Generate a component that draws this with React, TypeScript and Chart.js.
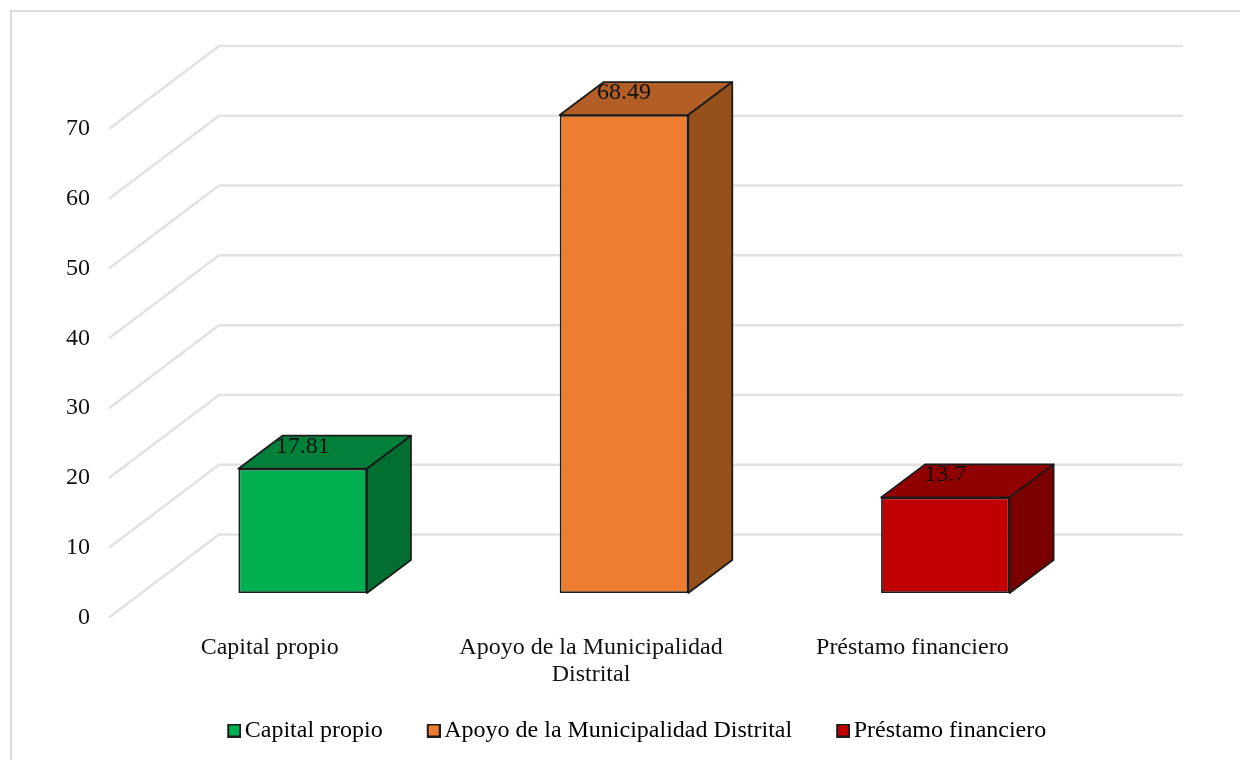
import React, { useEffect, useRef } from "react";
import { Chart, registerables } from "chart.js";

Chart.register(...registerables);

const categories = ["Capital propio", "Apoyo de la Municipalidad Distrital", "Préstamo financiero"];
const tickLabels = [["Capital propio"], ["Apoyo de la Municipalidad", "Distrital"], ["Préstamo financiero"]];
const values = [17.81, 68.49, 13.7];
const valueLabels = ["17.81", "68.49", "13.7"];
const frontColors = ["#00B050", "#ED7D31", "#C00000"];
const topColors = ["#008038", "#B25E25", "#900000"];
const sideColors = ["#006F30", "#96501C", "#7A0000"];

const FONT = "'Liberation Serif', 'Times New Roman', serif";
const FONT_SIZE = 24;
const EDGE = "#1c1c1c";
const GRID = "#e2e2e2";
const WALL_DX = 110;
const WALL_DY = -83;
const BAR_DX = 33;
const BAR_DY = -24.5;
const DEPTH_DX = 44;
const DEPTH_DY = -33;

function legendSwatch(color: string) {
  const c = document.createElement("canvas");
  c.width = 17;
  c.height = 14;
  const g = c.getContext("2d")!;
  g.fillStyle = color;
  g.strokeStyle = EDGE;
  g.lineWidth = 2;
  g.fillRect(4, 1, 12, 12);
  g.strokeRect(4, 1, 12, 12);
  return c;
}

const wallPlugin = {
  id: "wall",
  beforeDatasetsDraw(chart: any) {
    const { ctx, chartArea, scales } = chart;
    ctx.save();
    ctx.strokeStyle = GRID;
    ctx.lineWidth = 2.5;
    scales.y.ticks.forEach((t: any) => {
      const y = scales.y.getPixelForValue(t.value);
      ctx.beginPath();
      ctx.moveTo(chartArea.left, y);
      ctx.lineTo(chartArea.left + WALL_DX, y + WALL_DY);
      ctx.lineTo(chartArea.right + WALL_DX, y + WALL_DY);
      ctx.stroke();
    });
    ctx.restore();
  },
};

const barPlugin = {
  id: "bar3d",
  beforeDatasetDraw(chart: any) {
    chart.ctx.save();
    chart.ctx.translate(BAR_DX, BAR_DY);
  },
  afterDatasetDraw(chart: any) {
    chart.ctx.restore();
  },
  afterDatasetsDraw(chart: any) {
    const { ctx } = chart;
    const bars = chart.getDatasetMeta(0).data;
    ctx.save();
    ctx.translate(BAR_DX, BAR_DY);
    ctx.lineWidth = 1.8;
    ctx.lineJoin = "round";
    ctx.strokeStyle = EDGE;
    bars.forEach((bar: any, i: number) => {
      const { x, y, base, width } = bar.getProps(["x", "y", "base", "width"], true);
      const l = x - width / 2;
      const r = x + width / 2;
      ctx.fillStyle = topColors[i];
      ctx.beginPath();
      ctx.moveTo(l, y);
      ctx.lineTo(l + DEPTH_DX, y + DEPTH_DY);
      ctx.lineTo(r + DEPTH_DX, y + DEPTH_DY);
      ctx.lineTo(r, y);
      ctx.closePath();
      ctx.fill();
      ctx.stroke();
      ctx.fillStyle = sideColors[i];
      ctx.beginPath();
      ctx.moveTo(r, y);
      ctx.lineTo(r + DEPTH_DX, y + DEPTH_DY);
      ctx.lineTo(r + DEPTH_DX, base + DEPTH_DY);
      ctx.lineTo(r, base);
      ctx.closePath();
      ctx.fill();
      ctx.stroke();
      ctx.fillStyle = "#111";
      ctx.font = `${FONT_SIZE}px ${FONT}`;
      ctx.textAlign = "center";
      ctx.textBaseline = "middle";
      ctx.fillText(valueLabels[i], x, y - 22.5);
    });
    ctx.restore();
  },
};

const legendPlacement = {
  id: "legendPlacement",
  afterLayout(chart: any) {
    const lg = chart.legend;
    lg.left = 39;
    lg.right = 1240;
    const h = lg.bottom - lg.top;
    lg.top = 669;
    lg.bottom = 669 + h;
  },
};

export default function App() {
  const ref = useRef<HTMLCanvasElement | null>(null);
  useEffect(() => {
    const chart = new Chart(ref.current!, {
      type: "bar",
      data: {
        labels: tickLabels as any,
        datasets: [
          {
            data: values,
            backgroundColor: frontColors,
            borderColor: EDGE,
            borderWidth: 1.8,
            borderSkipped: false,
            barPercentage: 0.4,
            categoryPercentage: 1,
            clip: false as any,
          },
        ],
      },
      options: {
        responsive: false,
        animation: false,
        layout: { padding: { left: 0, right: 167, top: 129, bottom: -16 } },
        scales: {
          x: {
            grid: { display: false },
            border: { display: false },
            afterFit: (s: any) => {
              s.height = 75;
            },
            ticks: {
              color: "#111",
              font: { family: FONT, size: FONT_SIZE, lineHeight: 1.125 },
              maxRotation: 0,
              autoSkip: false,
              padding: 9,
            },
          },
          y: {
            min: 0,
            max: 70,
            grid: { display: false },
            border: { display: false },
            afterFit: (s: any) => {
              s.width = 109;
            },
            ticks: {
              stepSize: 10,
              color: "#111",
              font: { family: FONT, size: FONT_SIZE },
              padding: 11,
            },
          },
        },
        plugins: {
          title: { display: false },
          tooltip: { enabled: false },
          legend: {
            position: "bottom",
            labels: {
              boxWidth: 0.01,
              boxHeight: 14,
              padding: 49.5,
              color: "#111",
              font: { family: FONT, size: FONT_SIZE },
              usePointStyle: true,
              generateLabels: () =>
                categories.map((text, i) => ({
                  text,
                  fillStyle: frontColors[i],
                  strokeStyle: EDGE,
                  lineWidth: 2,
                  pointStyle: legendSwatch(frontColors[i]) as any,
                  hidden: false,
                  index: i,
                })),
            },
          },
        },
      },
      plugins: [wallPlugin, barPlugin, legendPlacement],
    });
    return () => chart.destroy();
  }, []);
  return (
    <div style={{ position: "absolute", left: 0, top: 0, width: 1240, height: 760, background: "#fff", overflow: "hidden" }}>
      <div
        style={{
          position: "absolute",
          left: 10,
          top: 10,
          right: 0,
          bottom: 0,
          borderLeft: "2px solid #dcdcdc",
          borderTop: "2px solid #dcdcdc",
        }}
      />
      <canvas ref={ref} width={1240} height={760} style={{ position: "absolute", left: 0, top: 0, display: "block" }} />
    </div>
  );
}
